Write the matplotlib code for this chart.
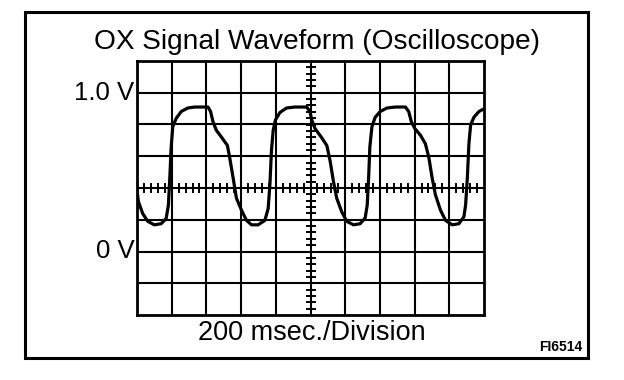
import matplotlib
matplotlib.use("Agg")
import matplotlib.pyplot as plt
from matplotlib.patches import Rectangle
import numpy as np

plt.rcParams['font.family'] = ['Liberation Sans', 'DejaVu Sans']

title = "OX Signal Waveform (Oscilloscope)"
x_label = "200 msec./Division"
fig_code = "FI6514"
y_labels = ["1.0 V", "0 V"]
y_label_values = [1.0, 0.0]

# time (ms) and voltage (V)
time_ms = [0, 8, 33, 62, 100, 139, 168, 181, 189, 197, 206, 226, 255, 293, 332, 409,
           424, 438, 457, 486, 521, 534, 554, 573, 602, 631, 660, 698, 737, 756, 766,
           775, 785, 798, 824, 862, 910, 978, 997, 1007, 1026, 1061, 1094, 1113, 1132,
           1151, 1180, 1209, 1248, 1286, 1315, 1327, 1335, 1342, 1354, 1373, 1402, 1441,
           1489, 1547, 1566, 1581, 1601, 1634, 1662, 1682, 1701, 1720, 1749, 1778, 1817,
           1855, 1884, 1894, 1904, 1913, 1923, 1942, 1971, 2000]
volts = [0.389, 0.314, 0.239, 0.190, 0.168, 0.175, 0.207, 0.293, 0.464, 0.657, 0.786,
         0.839, 0.882, 0.904, 0.910, 0.910, 0.882, 0.818, 0.764, 0.722, 0.668, 0.593,
         0.464, 0.336, 0.261, 0.196, 0.168, 0.168, 0.196, 0.271, 0.421, 0.636, 0.764,
         0.829, 0.876, 0.904, 0.910, 0.910, 0.882, 0.829, 0.775, 0.722, 0.668, 0.571,
         0.443, 0.336, 0.250, 0.190, 0.168, 0.175, 0.211, 0.293, 0.464, 0.657, 0.786,
         0.846, 0.882, 0.904, 0.910, 0.910, 0.882, 0.818, 0.775, 0.732, 0.679, 0.593,
         0.464, 0.357, 0.261, 0.196, 0.168, 0.175, 0.218, 0.293, 0.464, 0.679, 0.797,
         0.846, 0.882, 0.899]

ms_per_div = 200
v_per_div = 0.2
n_xdiv = 10
v_min, v_max = -0.4, 1.2

W, H = 624, 380
fig = plt.figure(figsize=(W / 100, H / 100), dpi=100)

# outer frame
fig.add_artist(Rectangle((25 / W, 1 - 358 / H), (588 - 25) / W, (358 - 12) / H,
                         transform=fig.transFigure, fill=False, lw=2.2, ec='black'))

ax = fig.add_axes([137 / W, 1 - 315 / H, (484 - 137) / W, (315 - 61) / H])
x_max = ms_per_div * n_xdiv
ax.set_xlim(0, x_max)
ax.set_ylim(v_min, v_max)

xg = np.arange(0, x_max + 1, ms_per_div)
yg = np.arange(v_min, v_max + 1e-9, v_per_div)
for x in xg[1:-1]:
    ax.axvline(x, color='black', lw=1.5, zorder=1)
for y in yg[1:-1]:
    ax.axhline(y, color='black', lw=1.5, zorder=1)

x_c = x_max / 2
y_c = (v_min + v_max) / 2
xt = np.arange(0, x_max + 1, ms_per_div / 5)
yt = np.arange(v_min, v_max + 1e-9, v_per_div / 5)
ax.plot(xt[1:-1], np.full(len(xt) - 2, y_c), ls='none', marker='|', ms=7, mew=1.4,
        color='black', zorder=2)
ax.plot(np.full(len(yt) - 2, x_c), yt[1:-1], ls='none', marker='_', ms=7, mew=1.4,
        color='black', zorder=2)

ax.plot(time_ms, volts, color='black', lw=2.3, zorder=3, solid_joinstyle='round')

ax.set_xticks([])
ax.set_yticks([])
for s in ax.spines.values():
    s.set_linewidth(2.0)

for lab, v in zip(y_labels, y_label_values):
    ax.text(-0.008, (v - v_min) / (v_max - v_min), lab, transform=ax.transAxes,
            ha='right', va='center', fontsize=18.5)

fig.text(317 / W, 1 - 42 / H, title, ha='center', va='center', fontsize=20.2)
fig.text(312 / W, 1 - 333 / H, x_label, ha='center', va='center', fontsize=19.5)
fig.text(582 / W, 1 - 347 / H, fig_code, ha='right', va='center', fontsize=10,
         fontweight='bold')

fig.savefig("out.png", dpi=100)
